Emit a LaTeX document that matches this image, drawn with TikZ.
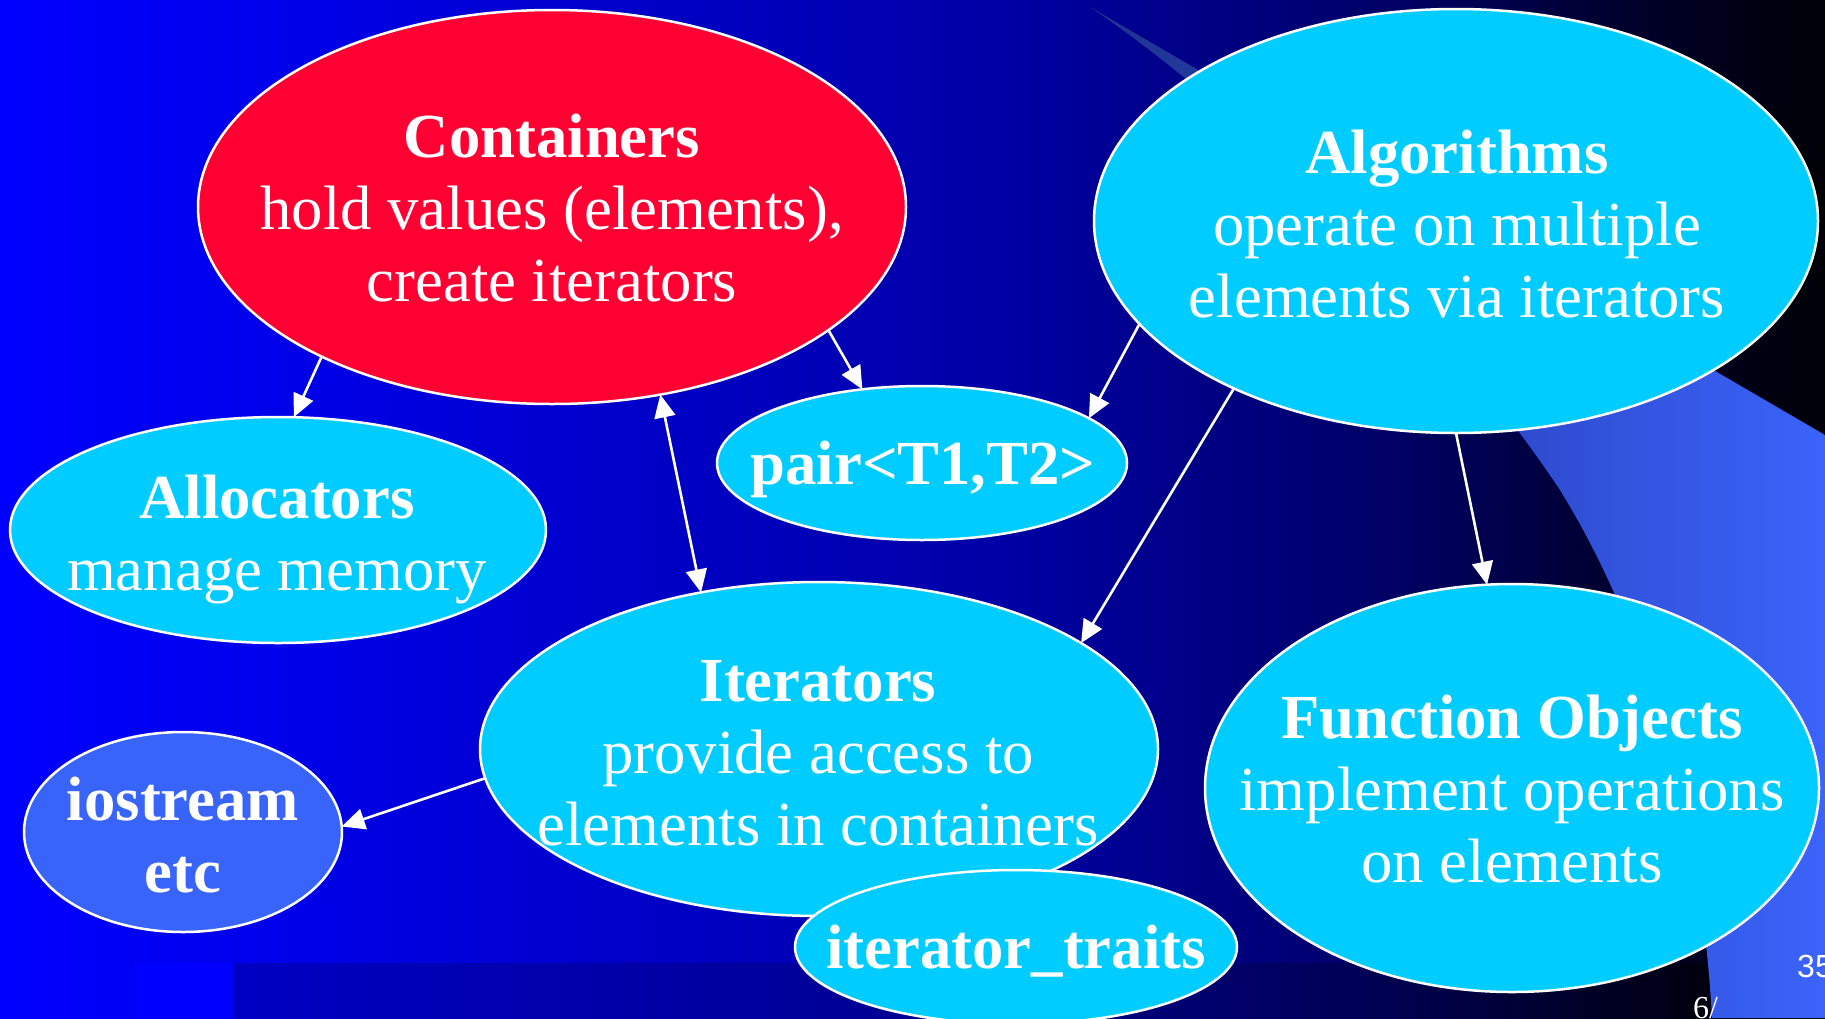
\documentclass[tikz,border=0pt]{standalone}
\usepackage{fontspec}
\setmainfont{Liberation Serif}
\newfontfamily\pagenumfont{Liberation Sans}
\usetikzlibrary{shapes.geometric,arrows.meta}

% slide background: bright blue on the left fading to black on the right
\pgfdeclarehorizontalshading{slidebg}{100bp}{rgb(0bp)=(0,0,1); rgb(25bp)=(0,0,1); rgb(33.2bp)=(0,0,0.91); rgb(52.4bp)=(0,0,0.647); rgb(63.4bp)=(0,0,0.392); rgb(68.8bp)=(0,0,0.196); rgb(75bp)=(0,0,0.02); rgb(100bp)=(0,0,0.02)}
% darker footer band
\pgfdeclarehorizontalshading{footerbg}{100bp}{rgb(0bp)=(0,0,0.765); rgb(25bp)=(0,0,0.765); rgb(49.1bp)=(0,0,0.55); rgb(61.6bp)=(0,0,0.31); rgb(71.1bp)=(0,0,0.06); rgb(75bp)=(0,0,0.02); rgb(100bp)=(0,0,0.02)}
% lighter swoosh on the right
\pgfdeclarehorizontalshading{swooshbg}{100bp}{rgb(0bp)=(0.12,0.2,0.55); rgb(25bp)=(0.12,0.2,0.55); rgb(52.9bp)=(0.18,0.29,0.8); rgb(75bp)=(0.23,0.39,0.98); rgb(100bp)=(0.23,0.39,0.98)}

\definecolor{bubblecyan}{RGB}{0,204,255}
\definecolor{bubblered}{RGB}{255,0,51}
\definecolor{bubbleblue}{RGB}{57,100,250}

\tikzset{
  bubble/.style={ellipse, draw=white, line width=2.5pt, inner sep=0pt, outer sep=0pt},
  cyanbubble/.style={bubble, fill=bubblecyan},
  caption/.style={text=white, align=center, inner sep=0pt,
    font=\fontsize{62.7}{72}\selectfont},
  link/.style={draw=white, line width=2.6pt, -{Triangle[length=23pt,width=21pt]}},
  biglink/.style={draw=white, line width=2.6pt,
    {Triangle[length=23pt,width=21pt]}-{Triangle[length=23pt,width=21pt]}},
  pagenum/.style={text=white, inner sep=0pt, anchor=west},
}

\begin{document}
\begin{tikzpicture}[x=1pt,y=-1pt]
\useasboundingbox (0,0) rectangle (1825,1018);
\clip (0,0) rectangle (1825,1018);

% background
\shade[shading=slidebg] (0,0) rectangle (1825,1018);
\shade[shading=footerbg] (233,963) rectangle (1825,1018);
\fill[blue] (133,963) rectangle (233,1018);
\shade[shading=swooshbg] (1090,7) -- (1825,435) -- (1825,1018) -- (1712,1018)
  .. controls (1700,800) and (1640,620) .. (1560,490)
  .. controls (1480,370) and (1300,150) .. (1090,7) -- cycle;

% page markers
\node[pagenum, font=\pagenumfont\fontsize{32}{36}\selectfont] (pgno) at (1797,966) {35};
\node[pagenum, font=\fontsize{32}{36}\selectfont] (pgof) at (1693,1008) {6/};

% bubbles
\node[bubble, fill=bubblered, minimum width=708pt, minimum height=394pt] (cont) at (552,207) {};
\node[caption] (conttext) at (552,215) {\textbf{Containers}\strut\\hold values (elements),\strut\\create iterators\strut};

\node[cyanbubble, minimum width=724pt, minimum height=424pt] (alg) at (1456,221) {};
\node[caption] (algtext) at (1457,231) {\textbf{Algorithms}\strut\\operate on multiple\strut\\elements via iterators\strut};

\node[cyanbubble, minimum width=536pt, minimum height=226pt] (alloc) at (278,530) {};
\node[caption] (alloctext) at (277,540) {\textbf{Allocators}\strut\\manage memory\strut};

\node[cyanbubble, minimum width=410pt, minimum height=154pt] (pair) at (922,463) {};
\node[caption] (pairtext) at (923,470) {\textbf{pair<T1,T2>}\strut};

\node[cyanbubble, minimum width=678pt, minimum height=334pt] (iter) at (819,749) {};
\node[caption] (itertext) at (818,759) {\textbf{Iterators}\strut\\provide access to\strut\\elements in containers\strut};

\node[cyanbubble, minimum width=442pt, minimum height=154pt] (trait) at (1016,947) {};
\node[caption] (traittext) at (1016,954) {\textbf{iterator\_traits}\strut};

\node[cyanbubble, minimum width=614pt, minimum height=408pt] (fobj) at (1512,788) {};
\node[caption] (fobjtext) at (1512,796) {\textbf{Function Objects}\strut\\implement operations\strut\\on elements\strut};

\node[bubble, fill=bubbleblue, minimum width=318pt, minimum height=200pt] (ios) at (183,832) {};
\node[caption] (iostext) at (183,842) {\textbf{iostream}\strut\\\textbf{etc}\strut};

% connectors
\draw[link] (cont.213.5) -- (alloc.82.4);
\draw[link] (cont.336.2) -- (pair.129.7);
\draw[biglink] (cont.300.1) -- (iter.127.6);
\draw[link] (alg.198.8) -- (pair.15.9);
\draw[link] (alg.217.4) -- (iter.22.0);
\draw[link] (alg.270) -- (fobj.97);
\draw[link] (iter.185.2) -- (ios.2.2);
\end{tikzpicture}
\end{document}
